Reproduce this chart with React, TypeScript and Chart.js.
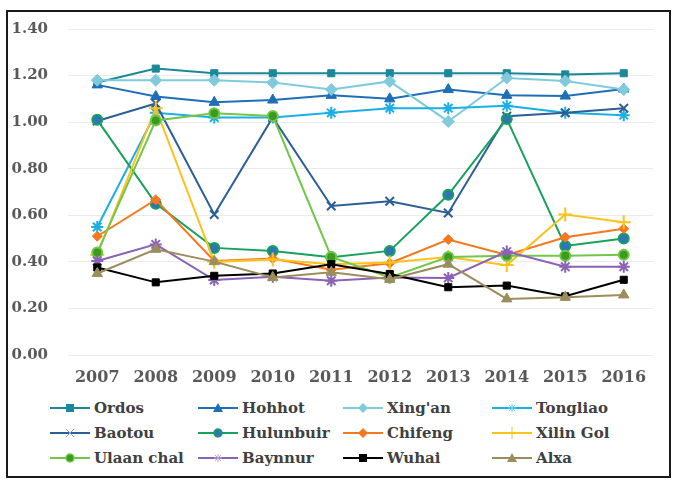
import React, { useEffect, useRef } from "react";
import { Chart, registerables } from "chart.js";

Chart.register(...registerables);

const years = ["2007", "2008", "2009", "2010", "2011", "2012", "2013", "2014", "2015", "2016"];
const yTicks = [0, 0.2, 0.4, 0.6, 0.8, 1.0, 1.2, 1.4];

const ordos = [1.17, 1.23, 1.21, 1.21, 1.21, 1.21, 1.21, 1.21, 1.205, 1.21];
const hohhot = [1.16, 1.11, 1.085, 1.095, 1.115, 1.1, 1.14, 1.115, 1.112, 1.142];
const xingan = [1.18, 1.18, 1.18, 1.17, 1.14, 1.175, 1.003, 1.19, 1.177, 1.14];
const tongliao = [0.55, 1.04, 1.02, 1.02, 1.04, 1.06, 1.06, 1.07, 1.04, 1.03];
const baotou = [1.005, 1.08, 0.603, 1.02, 0.64, 0.66, 0.61, 1.025, 1.04, 1.06];
const hulunbuir = [1.01, 0.65, 0.46, 0.447, 0.42, 0.447, 0.688, 1.014, 0.468, 0.5];
const chifeng = [0.51, 0.667, 0.404, 0.414, 0.366, 0.394, 0.496, 0.43, 0.506, 0.542];
const xilinGol = [0.43, 1.06, 0.4, 0.41, 0.39, 0.397, 0.421, 0.386, 0.603, 0.57];
const ulaanChal = [0.44, 1.007, 1.038, 1.026, 0.421, 0.333, 0.421, 0.426, 0.426, 0.43];
const baynnur = [0.404, 0.475, 0.322, 0.336, 0.319, 0.333, 0.331, 0.444, 0.379, 0.379];
const wuhai = [0.376, 0.312, 0.34, 0.35, 0.39, 0.348, 0.291, 0.298, 0.252, 0.323];
const alxa = [0.35, 0.454, 0.401, 0.333, 0.355, 0.325, 0.39, 0.241, 0.248, 0.258];

type S = { name: string; data: number[]; color: string; fill: string; style: string; r: number };

const series: S[] = [
  { name: "Ordos", data: ordos, color: "#1A8899", fill: "#1A8899", style: "rect", r: 5 },
  { name: "Hohhot", data: hohhot, color: "#1F6EB8", fill: "#1F6EB8", style: "triangle", r: 6 },
  { name: "Xing'an", data: xingan, color: "#7FCBDB", fill: "#7FCBDB", style: "rectRot", r: 6 },
  { name: "Tongliao", data: tongliao, color: "#1AAFE6", fill: "#1AAFE6", style: "star", r: 6 },
  { name: "Baotou", data: baotou, color: "#2C5F97", fill: "#2C5F97", style: "crossRot", r: 6 },
  { name: "Hulunbuir", data: hulunbuir, color: "#17A25B", fill: "#2E75B6", style: "circle", r: 5 },
  { name: "Chifeng", data: chifeng, color: "#F5781E", fill: "#F5781E", style: "rectRot", r: 5 },
  { name: "Xilin Gol", data: xilinGol, color: "#FBC21C", fill: "#FBC21C", style: "cross", r: 7 },
  { name: "Ulaan chal", data: ulaanChal, color: "#72C74A", fill: "#3A9B1F", style: "circle", r: 5 },
  { name: "Baynnur", data: baynnur, color: "#8A63B8", fill: "#8A63B8", style: "star", r: 6 },
  { name: "Wuhai", data: wuhai, color: "#000000", fill: "#000000", style: "rect", r: 5 },
  { name: "Alxa", data: alxa, color: "#9C8D5C", fill: "#9C8D5C", style: "triangle", r: 6 },
];

const FONT = "'DejaVu Serif', serif";

function Marker({ s }: { s: S }) {
  const cx = 20, cy = 7, r = 4;
  let m: React.ReactNode = null;
  switch (s.style) {
    case "rect":
      m = <rect x={cx - r} y={cy - r} width={2 * r} height={2 * r} fill={s.fill} />;
      break;
    case "triangle":
      m = <polygon points={`${cx},${cy - r - 1} ${cx - r - 1},${cy + r} ${cx + r + 1},${cy + r}`} fill={s.fill} />;
      break;
    case "rectRot":
      m = <polygon points={`${cx},${cy - r - 1} ${cx + r + 1},${cy} ${cx},${cy + r + 1} ${cx - r - 1},${cy}`} fill={s.fill} />;
      break;
    case "circle":
      m = <circle cx={cx} cy={cy} r={r} fill={s.fill} stroke={s.color} strokeWidth={1.5} />;
      break;
    case "star":
      m = (
        <g stroke={s.name === "Baynnur" ? "#B9A3DA" : "#5FD0F5"} strokeWidth={1}>
          <line x1={cx - r} y1={cy} x2={cx + r} y2={cy} />
          <line x1={cx} y1={cy - r} x2={cx} y2={cy + r} />
          <line x1={cx - 3} y1={cy - 3} x2={cx + 3} y2={cy + 3} />
          <line x1={cx - 3} y1={cy + 3} x2={cx + 3} y2={cy - 3} />
        </g>
      );
      break;
    case "crossRot":
      m = (
        <g stroke="#7FA7D4" strokeWidth={1}>
          <line x1={cx - 4} y1={cy - 4} x2={cx + 4} y2={cy + 4} />
          <line x1={cx - 4} y1={cy + 4} x2={cx + 4} y2={cy - 4} />
        </g>
      );
      break;
    case "cross":
      m = (
        <g stroke={s.color} strokeWidth={1}>
          <line x1={cx} y1={cy - 6} x2={cx} y2={cy + 6} />
        </g>
      );
      break;
  }
  return (
    <svg width={40} height={14} style={{ display: "block" }}>
      <line x1={0} y1={cy} x2={40} y2={cy} stroke={s.color} strokeWidth={2} />
      {m}
    </svg>
  );
}

const legendCols = [50, 198, 343, 492];
const legendRows = [408, 433, 458];

export default function App() {
  const ref = useRef<HTMLCanvasElement | null>(null);

  useEffect(() => {
    if (!ref.current) return;
    const n = series.length;
    const chart = new Chart(ref.current, {
      type: "line",
      data: {
        labels: years,
        datasets: series.map((s, i) => ({
          label: s.name,
          data: s.data,
          borderColor: s.color,
          backgroundColor: s.fill,
          pointBackgroundColor: s.fill,
          pointBorderColor: s.style === "circle" ? s.color : s.fill,
          pointBorderWidth: s.style === "circle" ? 2 : ["star", "crossRot", "cross"].includes(s.style) ? 2 : 1,
          pointStyle: s.style as any,
          pointRadius: s.r,
          borderWidth: 2,
          tension: 0,
          fill: false,
          order: n - i,
        })),
      },
      options: {
        animation: false,
        responsive: false,
        devicePixelRatio: 1,
        layout: { padding: { left: 0, right: 27, top: 26, bottom: 0 } },
        plugins: { legend: { display: false }, tooltip: { enabled: false } },
        scales: {
          x: {
            offset: true,
            grid: { display: false, drawTicks: false },
            border: { display: false },
            ticks: { color: "#595959", padding: 13, font: { family: FONT, size: 16, weight: "bold" } },
            afterFit: (sc: any) => { sc.height = 40; },
          },
          y: {
            min: 0,
            max: 1.4,
            afterBuildTicks: (sc: any) => { sc.ticks = yTicks.map((v) => ({ value: v })); },
            grid: { color: "#EBEBEB", lineWidth: 1, drawTicks: false },
            border: { display: false },
            ticks: {
              color: "#595959",
              padding: 20,
              font: { family: FONT, size: 15, weight: "bold" },
              callback: (v: any) => Number(v).toFixed(2),
            },
            afterFit: (sc: any) => { sc.width = 68; },
          },
        },
      },
    });
    return () => chart.destroy();
  }, []);

  return (
    <div style={{ position: "absolute", left: 0, top: 0, width: 680, height: 484, background: "#fff" }}>
      <div
        style={{
          position: "absolute",
          left: 6,
          top: 10,
          width: 665,
          height: 468,
          border: "2px solid #1a1a1a",
          boxSizing: "border-box",
        }}
      />
      <canvas ref={ref} width={680} height={395} style={{ position: "absolute", left: 0, top: 0, width: 680, height: 395 }} />
      {series.map((s, i) => {
        const col = i % 4;
        const row = Math.floor(i / 4);
        return (
          <div
            key={s.name}
            style={{
              position: "absolute",
              left: legendCols[col],
              top: legendRows[row] - 12,
              height: 24,
              display: "flex",
              alignItems: "center",
              whiteSpace: "nowrap",
            }}
          >
            <Marker s={s} />
            <span
              style={{
                marginLeft: 4,
                fontFamily: FONT,
                fontWeight: "bold",
                fontSize: 15,
                color: "#404040",
                lineHeight: "24px",
              }}
            >
              {s.name}
            </span>
          </div>
        );
      })}
    </div>
  );
}
